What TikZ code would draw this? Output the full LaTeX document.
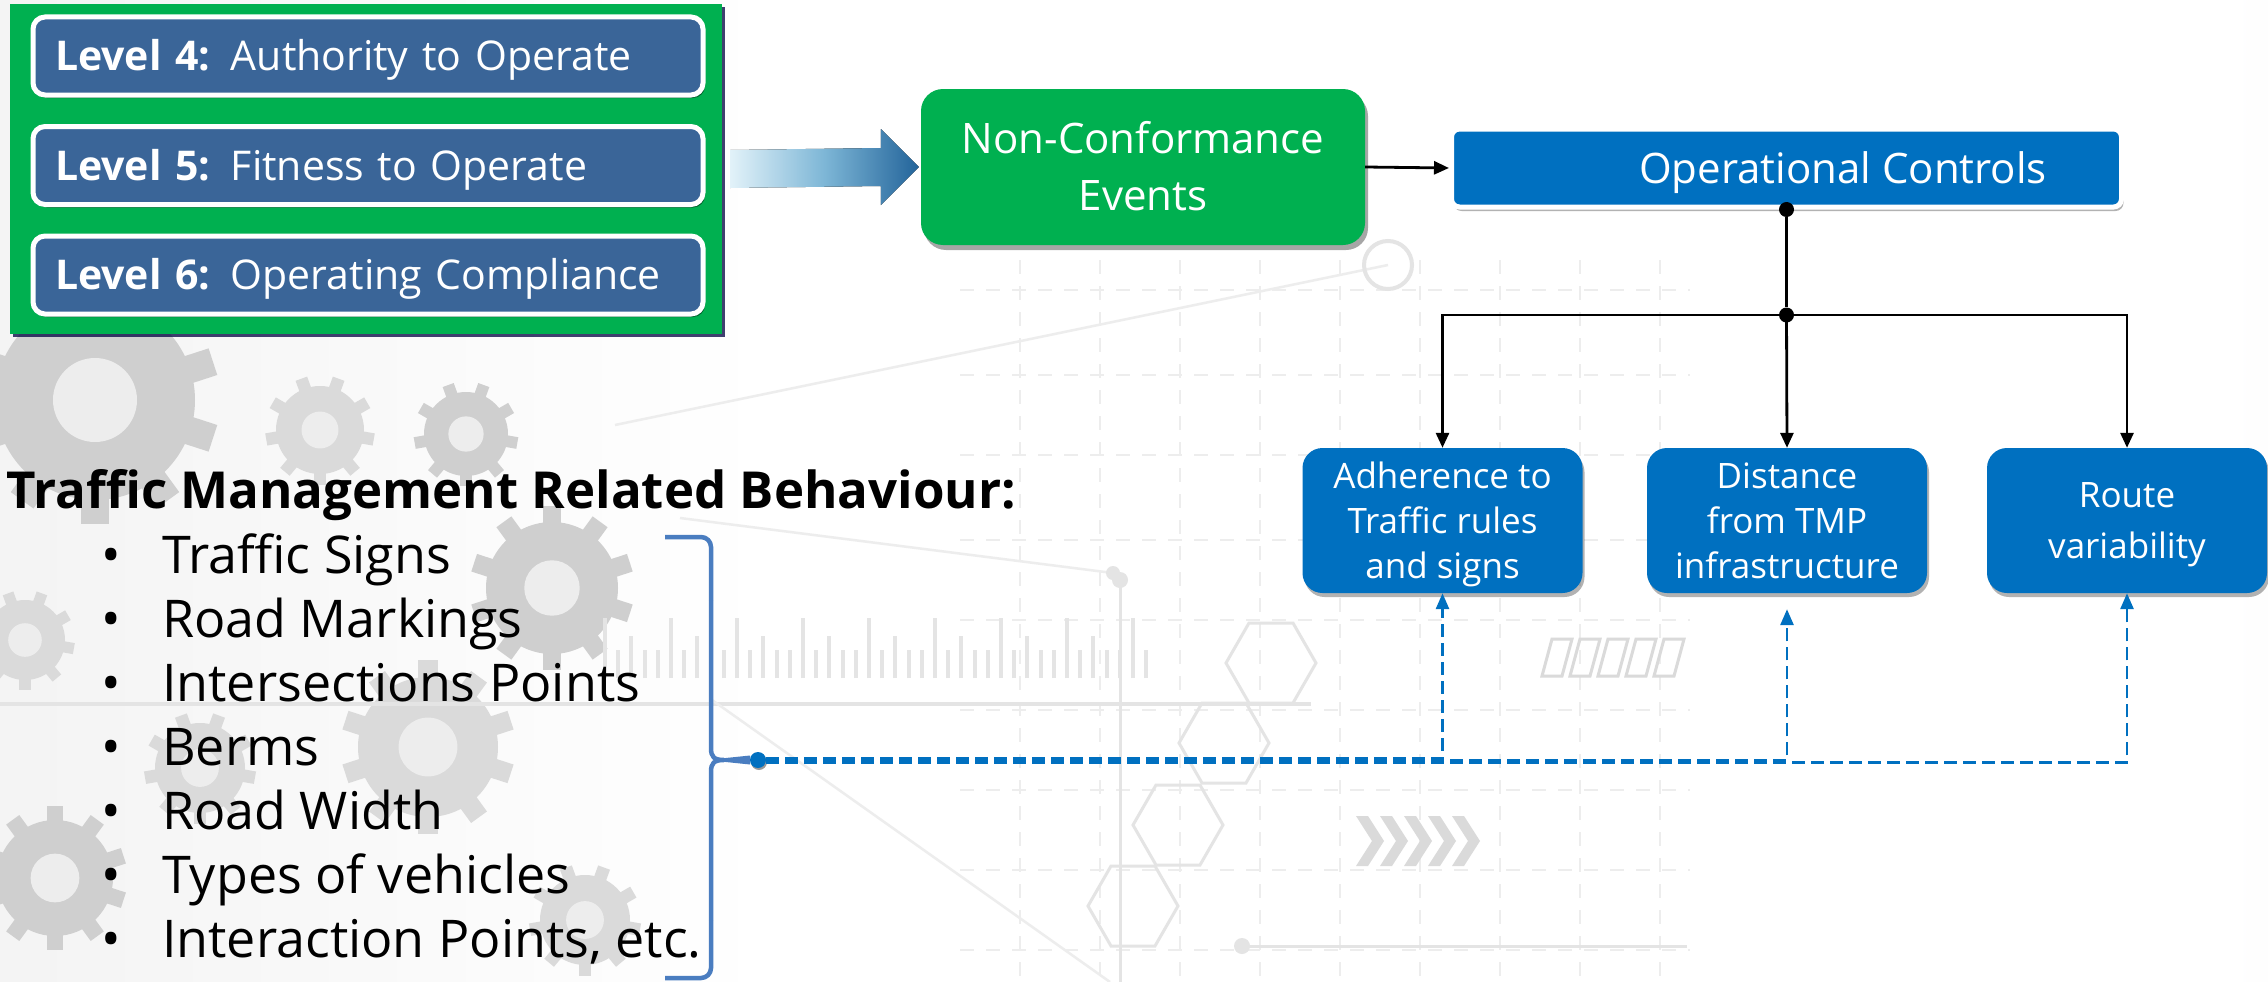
\documentclass[tikz,border=0pt]{standalone}
\usepackage{fontspec}
\setmainfont{Open Sans}
\usetikzlibrary{arrows.meta,shadows,calc}

\definecolor{panelgreen}{HTML}{00B050}
\definecolor{levelblue}{HTML}{3A6598}
\definecolor{boxblue}{HTML}{0070C0}
\definecolor{bracecol}{HTML}{4A7DC0}
\definecolor{bgL}{HTML}{E3E3E3}
\definecolor{bgR}{HTML}{E1E3E5}
\definecolor{gearA}{HTML}{CFCFCF}
\definecolor{gearB}{HTML}{DADADA}
\definecolor{faint}{HTML}{E4E4E4}
\definecolor{holecol}{HTML}{EDEDED}
\definecolor{arrowL}{HTML}{E2F2F9}
\definecolor{arrowM}{HTML}{7DB6D6}
\definecolor{arrowR}{HTML}{23649A}

\pgfdeclarehorizontalshading{pagebg}{100bp}{color(0bp)=(bgL); color(42bp)=(white); color(74bp)=(white); color(100bp)=(bgR)}

% a toothed wheel: centre x, centre y, radius, number of teeth, colour
\newcommand{\cogwheel}[5]{%
  \fill[#5] (#1,#2) circle (#3);
  \foreach \k in {1,...,#4}{%
    \fill[#5, shift={(#1,#2)}, rotate=\k*360/#4] (-0.14*#3,0) rectangle (0.14*#3,1.24*#3);
  }
  \fill[holecol] (#1,#2) circle (0.42*#3);
}

% flat-topped hexagon outline: centre x, centre y
\newcommand{\hexcell}[2]{%
  \draw[faint, line width=3pt] (#1-45,#2) -- (#1-22,#2-40) -- (#1+22,#2-40) -- (#1+45,#2)
     -- (#1+22,#2+40) -- (#1-22,#2+40) -- cycle;
}

\begin{document}
\begin{tikzpicture}[x=1pt,y=-1pt,
  levelbox/.style={draw=white, line width=5pt, fill=levelblue, rounded corners=12pt,
    minimum height=78pt, text width=626pt, inner xsep=22pt, inner ysep=0pt, align=left,
    text=white, font=\fontsize{41}{50}\selectfont, text height=29pt, text depth=0pt,
    drop shadow={shadow xshift=2pt, shadow yshift=-3pt, opacity=0.45, fill=black}},
  greenbox/.style={fill=panelgreen, rounded corners=22pt, minimum width=444pt,
    minimum height=156pt, align=center, text=white, inner sep=0pt,
    font=\fontsize{42}{57}\selectfont, text height=87pt, text depth=0pt,
    drop shadow={shadow xshift=3pt, shadow yshift=-5pt, opacity=0.35, fill=black}},
  topbox/.style={draw=white, line width=5pt, fill=boxblue, rounded corners=8pt,
    minimum width=670pt, minimum height=78pt, align=center, text=white, inner sep=0pt,
    font=\fontsize{42}{50}\selectfont, text height=30pt, text depth=0pt,
    drop shadow={shadow xshift=2pt, shadow yshift=-4pt, opacity=0.3, fill=black}},
  ctrlbox/.style={fill=boxblue, rounded corners=20pt, minimum width=280pt,
    minimum height=145pt, align=center, text=white, inner sep=0pt,
    font=\fontsize{35}{45}\selectfont, text height=115pt, text depth=0pt,
    drop shadow={shadow xshift=2pt, shadow yshift=-4pt, opacity=0.3, fill=black}},
  joint/.style={circle, fill=black, inner sep=0pt, minimum size=15pt},
  feed/.style={draw=black, line width=2.8pt, -{Triangle[length=15pt,width=13pt]}},
  dashconn/.style={draw=boxblue, line width=2.8pt, dash pattern=on 13pt off 6pt,
    -{Triangle[length=16pt,width=13pt]}},
  itemtext/.style={anchor=base west, inner sep=0pt, font=\fontsize{52}{60}\selectfont},
]
\useasboundingbox (0,0) rectangle (2268,982);

% ---------- page background ----------
\fill[shading=pagebg] (0,0) rectangle (2268,982);

% faint dashed grid
\foreach \gy in {290,375,455,540,620,710,790,870,950}
  \draw[holecol, line width=2pt, dash pattern=on 14pt off 12pt] (960,\gy) -- (1690,\gy);
\foreach \gx in {1020,1100,1180,1260,1340,1420,1500,1580,1660}
  \draw[holecol, line width=2pt, dash pattern=on 14pt off 12pt] (\gx,260) -- (\gx,982);

% gears on the left
\cogwheel{95}{400}{100}{10}{gearA}
\cogwheel{320}{430}{44}{9}{gearB}
\cogwheel{466}{434}{42}{9}{gearA}
\cogwheel{552}{588}{66}{10}{gearA}
\cogwheel{428}{747}{70}{10}{gearB}
\cogwheel{200}{768}{45}{9}{gearB}
\cogwheel{55}{878}{58}{10}{gearA}
\cogwheel{585}{920}{45}{9}{gearB}
\cogwheel{25}{640}{40}{9}{gearB}

% ruler ticks
\foreach \i in {0,...,41}{
  \pgfmathsetmacro{\tx}{605+\i*13.2}
  \pgfmathsetmacro{\th}{ifthenelse(mod(\i,5)==0,60,ifthenelse(mod(\i,5)==2,42,28))}
  \draw[faint, line width=4pt] (\tx,678) -- (\tx,678-\th);
}

% thin lines, dots and rings
\draw[faint, line width=4pt] (0,704) -- (1311,704);
\draw[faint, line width=3pt] (1242,946) -- (1687,946);
\fill[faint] (1242,946) circle (8);
\draw[faint, line width=3pt] (1120,580) -- (1120,982);
\fill[faint] (1120,580) circle (8);
\draw[holecol, line width=2.5pt] (615,425) -- (1388,265);
\draw[holecol, line width=2.5pt] (680,518) -- (1113,573);
\fill[faint] (1113,573) circle (7);
\draw[holecol, line width=2.5pt] (712,700) -- (1110,982);
\draw[faint, line width=4pt] (1388,265) circle (24);

% hexagon chain
\hexcell{1271}{663}
\hexcell{1224}{743}
\hexcell{1178}{825}
\hexcell{1133}{906}

% chevrons
\foreach \i in {0,...,4}
  \fill[gearB] (1356+\i*24,816) -- (1368+\i*24,816) -- (1384+\i*24,841) -- (1368+\i*24,866)
    -- (1356+\i*24,866) -- (1372+\i*24,841) -- cycle;

% slanted blocks
\foreach \i in {0,...,4}
  \draw[gearB, line width=3pt] (1552+\i*28,639) -- (1572+\i*28,639) -- (1562+\i*28,676)
    -- (1542+\i*28,676) -- cycle;

% ---------- level panel ----------
\node[fill=panelgreen, minimum width=712pt, minimum height=330pt, inner sep=0pt,
  drop shadow={shadow xshift=3pt, shadow yshift=-3pt, opacity=0.75, fill=black!75!blue}]
  (panel) at (366,169) {};
\node[levelbox] (lv4) at (368,56) {\textbf{Level 4:} Authority to Operate};
\node[levelbox] (lv5) at (368,165.5) {\textbf{Level 5:} Fitness to Operate};
\node[levelbox] (lv6) at (368,275) {\textbf{Level 6:} Operating Compliance};

% ---------- main flow ----------
\node[greenbox] (nc) at (1143,167) {Non-Conformance\\Events};
\node[topbox] (opc) at (1786.5,168) {\hspace*{113pt}Operational Controls};

\node[ctrlbox] (b1) at (1442.5,520.5) {Adherence to\\Traffic rules\\and signs};
\node[ctrlbox] (b2) at (1787,520.5) {Distance\\from TMP\\infrastructure};
\node[ctrlbox, font=\fontsize{35}{51}\selectfont, text height=76pt] (b3) at (2127,520.5) {Route\\variability};

% broad shaded arrow into the non-conformance box
\fill[left color=arrowL, right color=arrowR, middle color=arrowM]
  ([xshift=8pt,yshift=19pt]panel.east) -- ([xshift=-40pt,yshift=19pt]nc.west)
  -- ([xshift=-40pt,yshift=38pt]nc.west) -- ([xshift=-2pt]nc.west)
  -- ([xshift=-40pt,yshift=-38pt]nc.west) -- ([xshift=-40pt,yshift=-19pt]nc.west)
  -- ([xshift=8pt,yshift=-19pt]panel.east) -- cycle;

\draw[feed] (nc.east) -- (opc.west);

\node[joint] (top) at (opc.south) {};
\node[joint] (j) at (1786.5,315) {};
\draw[draw=black, line width=2.8pt] (top) -- (j);
\draw[feed] (j.center) -| (b1.north);
\draw[feed] (j.center) -- (b2.north);
\draw[feed] (j.center) -| (b3.north);

% ---------- behaviour list ----------
\node[anchor=base west, inner sep=0pt, font=\bfseries\fontsize{51}{60}\selectfont]
  (title) at (6,508) {Traffic Management Related Behaviour:};

\foreach \t [count=\n] in {Traffic Signs, Road Markings, Intersections Points, Berms,
    Road Width, Types of vehicles, {Interaction Points, etc.}}{
  \node[itemtext] (bul\n) at (101,{573+(\n-1)*64}) {\makebox[61pt][l]{•}\t};
}

% closing brace gathering the list
\draw[bracecol, line width=4.5pt, rounded corners=10pt]
  (665,537) -- (711,537) -- (711,600);
\draw[bracecol, line width=4.5pt]
  (711,600) -- (711,748) .. controls (711,757) and (714,760) .. (724,760)
  .. controls (714,760) and (711,763) .. (711,772) -- (711,920);
\draw[bracecol, line width=4.5pt, rounded corners=10pt]
  (711,920) -- (711,978) -- (665,978);
\fill[bracecol] (716,759) -- (750,755.5) -- (750,764.5) -- (716,761) -- cycle;
\node[circle, fill=boxblue, inner sep=0pt, minimum size=16pt,
  drop shadow={shadow xshift=1pt, shadow yshift=-2pt, opacity=0.4, fill=black}] (bdot) at (758,760) {};

% ---------- dashed feedback to the controls ----------
\draw[dashconn] ([yshift=1.5pt]bdot.east) -| (b1.south);
\draw[dashconn] ([yshift=-0.5pt]bdot.east) -| ([yshift=-16pt]b2.south);
\draw[dashconn] ([yshift=-2.5pt]bdot.east) -| (b3.south);
\end{tikzpicture}
\end{document}
